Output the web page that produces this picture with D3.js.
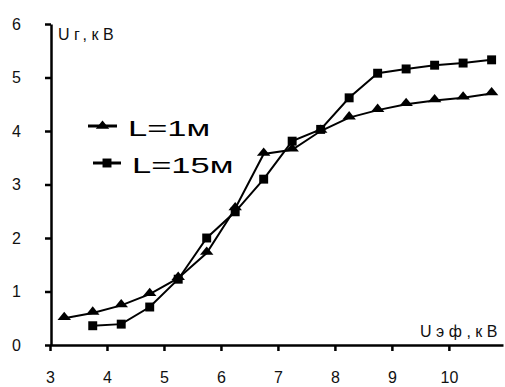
<!DOCTYPE html>
<html lang="ru">
<head>
    <meta charset="UTF-8">
    <title>Uг от Uэф</title>
    <script src="https://d3js.org/d3.v7.min.js"></script>
    <style>
        body {
            margin: 0;
            background-color: #ffffff;
            font-family: "Liberation Sans", Arial, sans-serif;
        }
        .line {
            fill: none;
            stroke: #000;
            stroke-width: 2;
        }
        .axis path, .axis line {
            stroke: #000;
            stroke-width: 2.5;
        }
        .axis text {
            font-size: 16px;
            fill: #111;
            font-family: "Liberation Sans", Arial, sans-serif;
        }
        .axisTitle {
            font-size: 16px;
            fill: #111;
            letter-spacing: 4.5px;
        }
        .legendText {
            font-size: 23px;
            fill: #000;
        }
    </style>
</head>
<body>
<div id="chart"></div>
<script>
    // data
    var xTicks = [3, 4, 5, 6, 7, 8, 9, 10];
    var yTicks = [0, 1, 2, 3, 4, 5, 6];

    var x1 = [3.25, 3.75, 4.25, 4.75, 5.25, 5.75, 6.25, 6.75, 7.25, 7.75, 8.25, 8.75, 9.25, 9.75, 10.25, 10.75];
    var y1 = [0.50, 0.60, 0.74, 0.95, 1.25, 1.72, 2.55, 3.57, 3.65, 4.00, 4.25, 4.39, 4.50, 4.57, 4.62, 4.70];

    var x15 = [3.75, 4.25, 4.75, 5.25, 5.75, 6.25, 6.75, 7.25, 7.75, 8.25, 8.75, 9.25, 9.75, 10.25, 10.75];
    var y15 = [0.36, 0.39, 0.71, 1.23, 2.00, 2.49, 3.10, 3.81, 4.03, 4.62, 5.08, 5.16, 5.23, 5.27, 5.33];

    var seriesNames = ["L=1м", "L=15м"];

    var width = 505, height = 387;

    var svg = d3.select("#chart").append("svg")
        .attr("width", width)
        .attr("height", height);

    var x = d3.scaleLinear().domain([3, 10.95]).range([50, 503]);
    var y = d3.scaleLinear().domain([0, 6]).range([345, 24]);

    // axes
    svg.append("g")
        .attr("class", "axis")
        .attr("transform", "translate(0,345)")
        .call(d3.axisBottom(x).tickValues(xTicks).tickFormat(d3.format("d"))
            .tickSize(6).tickSizeOuter(0).tickPadding(21));

    svg.append("g")
        .attr("class", "axis")
        .attr("transform", "translate(51,0)")
        .call(d3.axisLeft(y).tickValues(yTicks).tickFormat(d3.format("d"))
            .tickSize(6).tickSizeOuter(0).tickPadding(24));

    // axis titles
    svg.append("text")
        .attr("class", "axisTitle")
        .attr("x", 58)
        .attr("y", 40)
        .text("Uг,кВ");

    svg.append("text")
        .attr("class", "axisTitle")
        .attr("x", 420)
        .attr("y", 337)
        .text("Uэф,кВ");

    var line = d3.line()
        .x(function(d) { return x(d[0]); })
        .y(function(d) { return y(d[1]); });

    var data1 = d3.zip(x1, y1);
    var data15 = d3.zip(x15, y15);

    svg.append("path").datum(data1).attr("class", "line").attr("d", line);
    svg.append("path").datum(data15).attr("class", "line").attr("d", line);

    var tri = d3.symbol().type(d3.symbolTriangle).size(55);
    var sq = d3.symbol().type(d3.symbolSquare).size(80);

    // triangles in the original are squat, so flatten them a little
    svg.selectAll(".tri").data(data1).enter().append("path")
        .attr("class", "tri")
        .attr("d", tri)
        .attr("transform", function(d) { return "translate(" + x(d[0]) + "," + (y(d[1]) - 1) + ") scale(1.2,0.85)"; })
        .attr("fill", "#000");

    svg.selectAll(".sq").data(data15).enter().append("path")
        .attr("class", "sq")
        .attr("d", sq)
        .attr("transform", function(d) { return "translate(" + x(d[0]) + "," + y(d[1]) + ")"; })
        .attr("fill", "#000");

    // legend
    var legend = [
        {name: seriesNames[0], sym: tri, sc: "scale(1.2,0.85)", x0: 88, x1: 117, y: 126},
        {name: seriesNames[1], sym: sq, sc: "", x0: 93, x1: 121, y: 163}
    ];
    legend.forEach(function(l) {
        svg.append("line")
            .attr("x1", l.x0).attr("x2", l.x1)
            .attr("y1", l.y).attr("y2", l.y)
            .attr("stroke", "#000").attr("stroke-width", 3);
        svg.append("path")
            .attr("d", l.sym)
            .attr("transform", "translate(" + ((l.x0 + l.x1) / 2) + "," + l.y + ") " + l.sc)
            .attr("fill", "#000");
        // the original font is drawn wide, so stretch it horizontally
        svg.append("text")
            .attr("class", "legendText")
            .attr("transform", "translate(" + (l.x1 + 11) + "," + (l.y + 10) + ") scale(1.5,1)")
            .text(l.name);
    });
</script>
</body>
</html>
